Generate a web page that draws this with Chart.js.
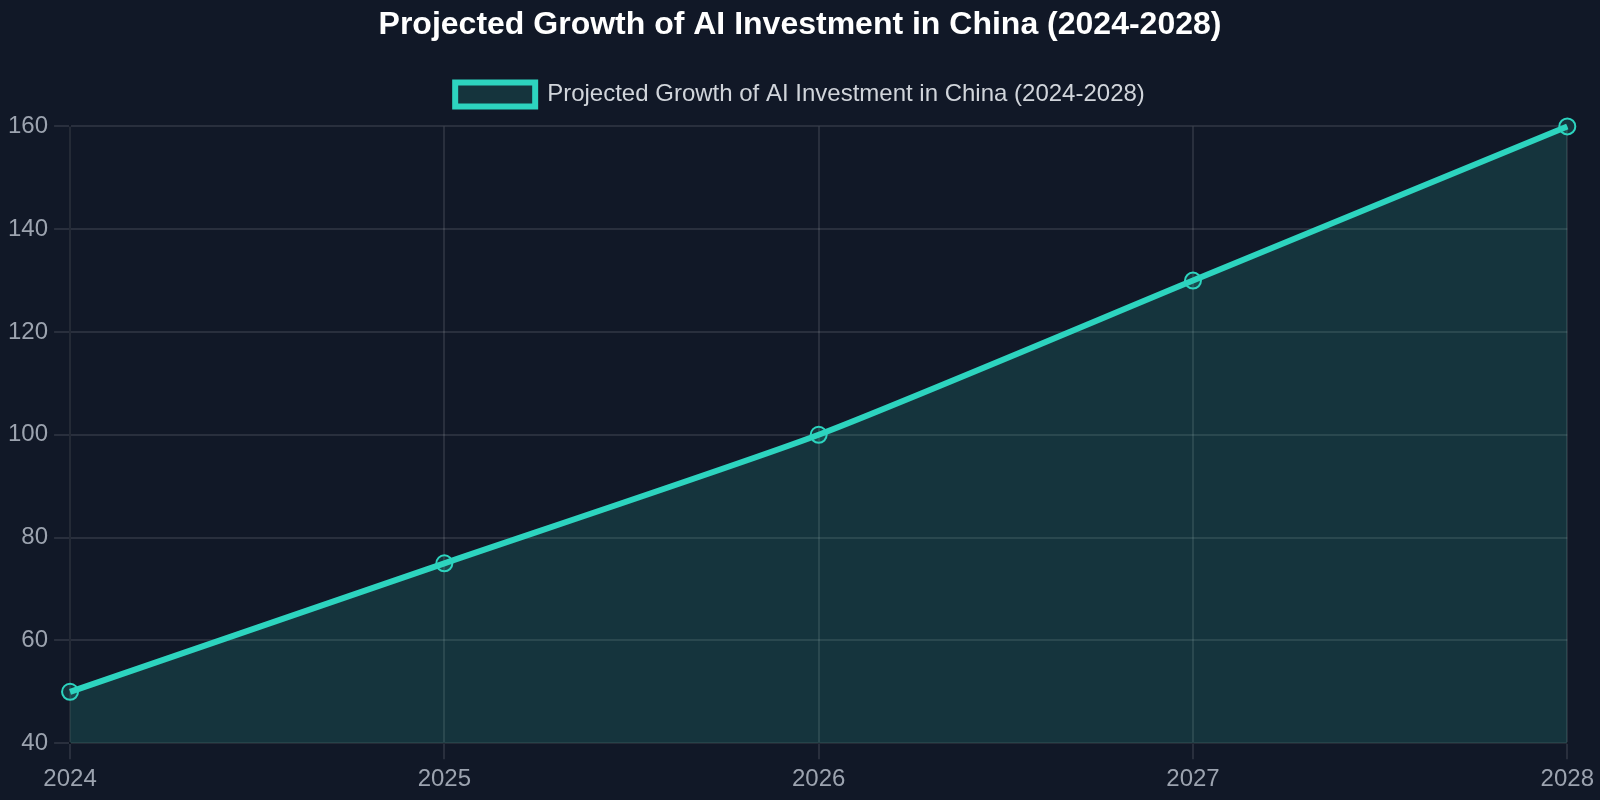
<!DOCTYPE html>
<html>
<head>
<meta charset="utf-8">
<script src="https://cdn.jsdelivr.net/npm/chart.js@4/dist/chart.umd.min.js"></script>
<style>
  html, body { margin: 0; padding: 0; background: #111827; }
  body { width: 1600px; height: 800px; overflow: hidden; }
  /* chart laid out at 800x400 and drawn at 2x, then shown at full size */
  #wrap { width: 800px; height: 400px; transform: scale(2); transform-origin: 0 0; }
</style>
</head>
<body>
<div id="wrap"><canvas id="chart"></canvas></div>
<script>
// data
var years = ["2024", "2025", "2026", "2027", "2028"];
var investment = [50, 75, 100, 130, 160];
var seriesLabel = "Projected Growth of AI Investment in China (2024-2028)";

var teal = "#2dd4bf";
var tealFill = "rgba(45, 212, 191, 0.15)";
var gridColor = "rgba(255, 255, 255, 0.1)";
var tickColor = "#9ca3af";

Chart.defaults.font.family = "'Liberation Sans', Arial, sans-serif";

var ctx = document.getElementById("chart");
new Chart(ctx, {
    type: "line",
    data: {
        labels: years,
        datasets: [
            {
                label: seriesLabel,
                data: investment,
                borderColor: teal,
                backgroundColor: tealFill,
                borderWidth: 3,
                fill: true,
                tension: 0.2,
                clip: false,
                pointRadius: 4,
                pointBorderWidth: 1,
                pointBorderColor: teal,
                pointBackgroundColor: tealFill,
            },
        ],
    },
    options: {
        responsive: true,
        maintainAspectRatio: false,
        devicePixelRatio: 2,
        animation: false,
        layout: { padding: { top: 3, left: 1, right: 1, bottom: 0 } },
        plugins: {
            title: {
                display: true,
                text: seriesLabel,
                color: "#ffffff",
                font: { size: 16, weight: "bold" },
                padding: { top: 0, bottom: 9 },
            },
            legend: {
                labels: {
                    color: "#d1d5db",
                },
            },
        },
        scales: {
            x: {
                grid: { color: gridColor },
                ticks: { color: tickColor },
            },
            y: {
                min: 40,
                max: 160,
                grid: { color: gridColor },
                ticks: { color: tickColor, stepSize: 20 },
            },
        },
    },
});
</script>
</body>
</html>
